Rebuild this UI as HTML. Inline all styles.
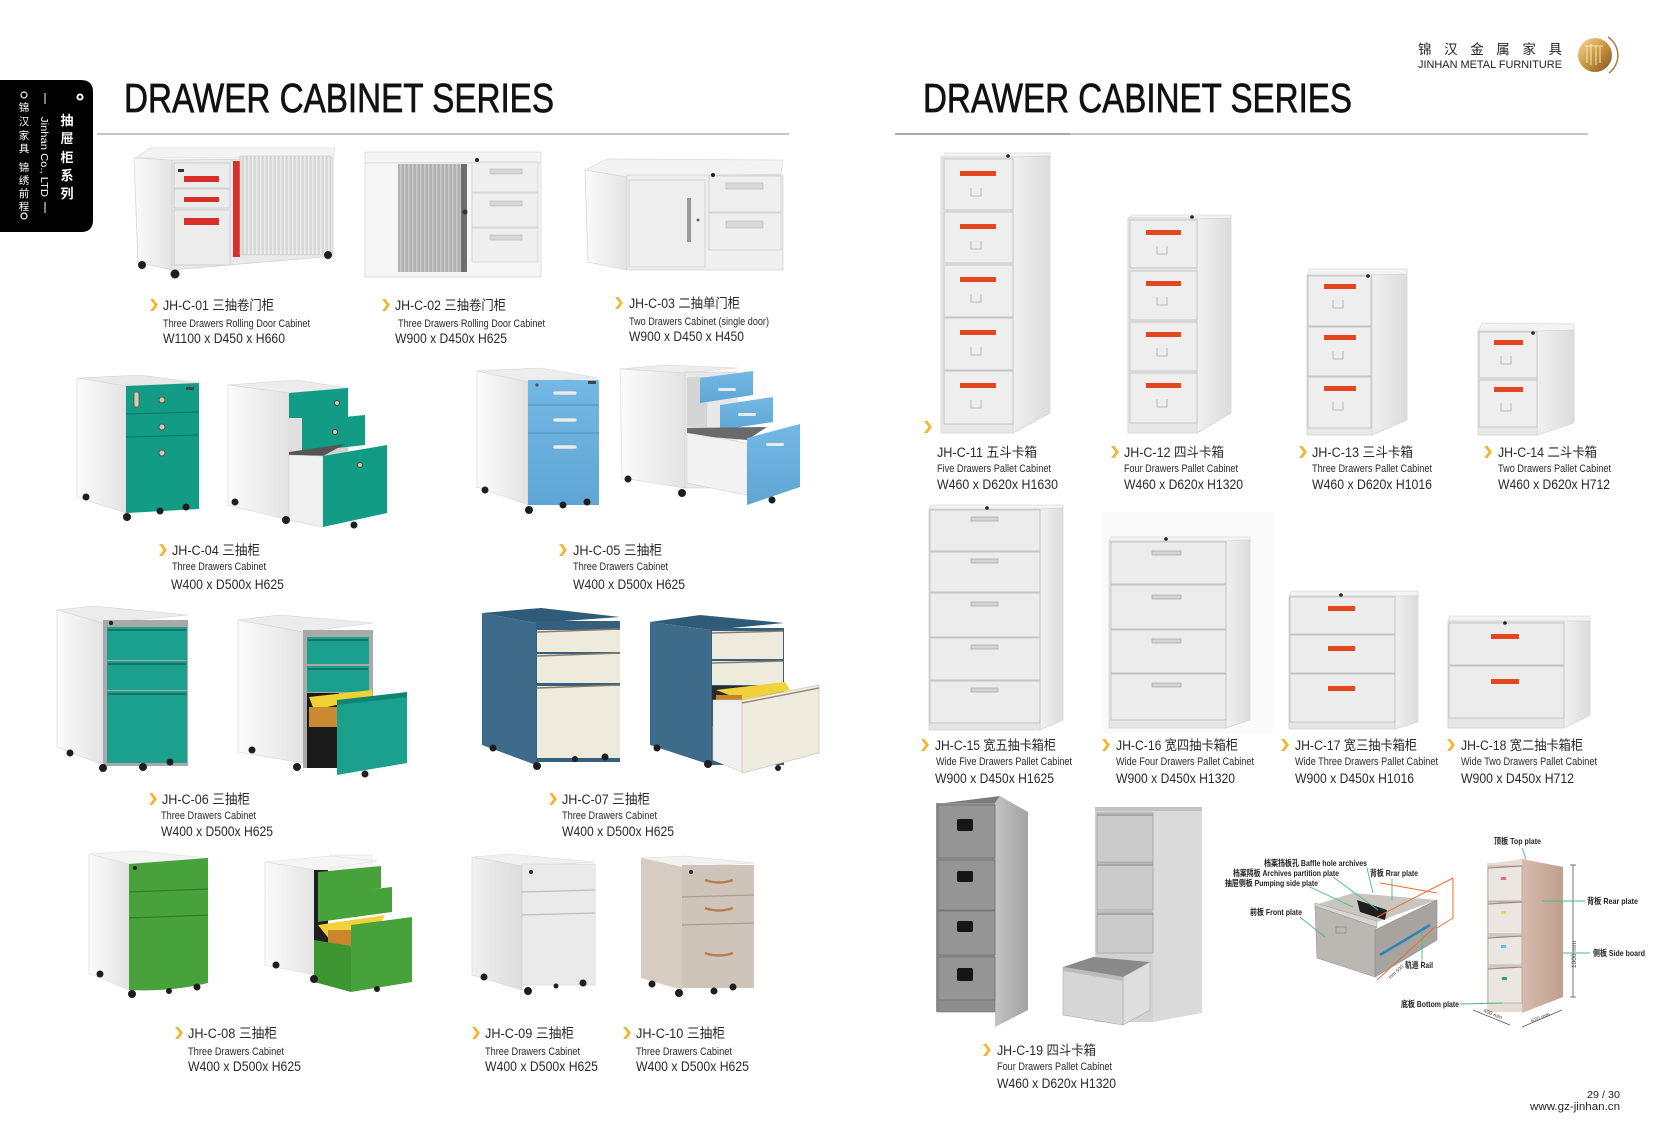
<!DOCTYPE html>
<html><head><meta charset="utf-8"><title>Drawer Cabinet Series</title>
<style>
html,body{margin:0;padding:0;background:#fff;width:1654px;height:1122px;overflow:hidden;}
svg{display:block;}
text{font-family:"Liberation Sans","Noto Sans CJK SC",sans-serif;}
.t{font-size:41px;fill:#111;stroke:#111;stroke-width:0.7px;}
.m{font-size:13.5px;fill:#2a2a2a;}
.s{font-size:11px;fill:#2a2a2a;}
.d{font-size:13.5px;fill:#2a2a2a;}
.dl{font-size:8.5px;font-weight:bold;fill:#222;}
</style></head><body>
<svg width="1654" height="1122" viewBox="0 0 1654 1122" xmlns="http://www.w3.org/2000/svg">
<defs>
<linearGradient id="gs" x1="0" x2="1"><stop offset="0" stop-color="#fbfbfb"/><stop offset="1" stop-color="#e3e3e3"/></linearGradient>
<linearGradient id="gs2" x1="0" x2="1"><stop offset="0" stop-color="#f0f0f0"/><stop offset="1" stop-color="#dcdcdc"/></linearGradient>
<linearGradient id="gb" x1="0" y1="0" x2="0" y2="1"><stop offset="0" stop-color="#74b8e4"/><stop offset="1" stop-color="#5fa6d6"/></linearGradient>
<linearGradient id="gold" x1="0" y1="0" x2="1" y2="1"><stop offset="0" stop-color="#f5dc98"/><stop offset="0.5" stop-color="#c9963f"/><stop offset="1" stop-color="#7f5320"/></linearGradient>
<linearGradient id="gside19" x1="0" x2="1"><stop offset="0" stop-color="#c4c4c4"/><stop offset="1" stop-color="#a2a2a2"/></linearGradient>
<linearGradient id="gbr" x1="0" x2="1"><stop offset="0" stop-color="#d6bcae"/><stop offset="1" stop-color="#c09e8c"/></linearGradient>
<pattern id="slat" width="4" height="10" patternUnits="userSpaceOnUse"><rect width="4" height="10" fill="#d8d8d8"/><rect width="1.5" height="10" fill="#ebebeb"/></pattern>
<pattern id="slat2" width="4" height="10" patternUnits="userSpaceOnUse"><rect width="4" height="10" fill="#b2b2b2"/><rect width="1.5" height="10" fill="#c9c9c9"/></pattern>
<polygon id="arw" points="0,0 3.5,0 8,6 3.5,12 0,12 4.5,6" fill="#f2b632"/>
</defs>

<!-- Sidebar -->
<path d="M0,80 H81 Q93,80 93,92 V220 Q93,232 81,232 H0 Z" fill="#000"/>
<circle cx="80" cy="97" r="3.5" fill="#fff"/><circle cx="80" cy="97" r="1.6" fill="#000"/>
<g fill="#fff" font-size="13" font-weight="bold" text-anchor="middle">
<text x="67" y="125">抽</text><text x="67" y="143">屉</text><text x="67" y="162">柜</text><text x="67" y="180">系</text><text x="67" y="198">列</text>
</g>
<line x1="45" y1="93" x2="45" y2="104" stroke="#fff" stroke-width="1"/>
<line x1="45" y1="202" x2="45" y2="213" stroke="#fff" stroke-width="1"/>
<text transform="translate(41,117) rotate(90)" font-size="10" fill="#fff" textLength="80" lengthAdjust="spacingAndGlyphs">Jinhan Co., LTD</text>
<g fill="#fff" font-size="10.5" text-anchor="middle">
<circle cx="24" cy="95" r="3" fill="none" stroke="#fff" stroke-width="1.2"/>
<text x="24" y="111">锦</text><text x="24" y="125">汉</text><text x="24" y="139">家</text><text x="24" y="152">具</text>
<text x="24" y="171">锦</text><text x="24" y="184">绣</text><text x="24" y="197">前</text><text x="24" y="210">程</text>
<circle cx="24" cy="216" r="3" fill="none" stroke="#fff" stroke-width="1.2"/>
</g>

<!-- Logo -->
<text x="1418" y="54" font-size="13.5" fill="#222" textLength="144" lengthAdjust="spacing">锦汉金属家具</text>
<text x="1418" y="68" font-size="11" fill="#222" textLength="144" lengthAdjust="spacingAndGlyphs">JINHAN METAL FURNITURE</text>
<circle cx="1595" cy="55" r="17" fill="url(#gold)"/>
<path d="M1587,46 v17 M1591,44 v21 M1596,45 v20 M1600,47 v16 M1585,46 h18" stroke="#f6e7c0" stroke-width="1" fill="none"/>
<path d="M1608,37 A22,22 0 0 1 1609,73" stroke="#b07a3c" stroke-width="1.5" fill="none"/>

<!-- Titles -->
<text class="t" x="124" y="112" textLength="430" lengthAdjust="spacingAndGlyphs">DRAWER CABINET SERIES</text>
<text class="t" x="923" y="112" textLength="429" lengthAdjust="spacingAndGlyphs">DRAWER CABINET SERIES</text>
<line x1="97" y1="134" x2="789" y2="134" stroke="#c6c6c6" stroke-width="2"/>
<line x1="895" y1="134" x2="1588" y2="134" stroke="#c6c6c6" stroke-width="2"/>
<line x1="895" y1="134" x2="1070" y2="134" stroke="#a9a9a9" stroke-width="2"/>

<!-- ============ LEFT PAGE CABINETS ============ -->
<!-- C-01 -->
<polygon points="136,158 150,148 335,148 333,158" fill="#f3f3f3" stroke="#dcdcdc" stroke-width=".8"/>
<polygon points="134,158 172,160 172,270 138,262" fill="url(#gs)" stroke="#d6d6d6" stroke-width=".8"/>
<polygon points="172,160 333,158 333,256 172,270" fill="#eaeaea" stroke="#d0d0d0" stroke-width=".8"/>
<rect x="174" y="163" width="56" height="25" fill="#ececec" stroke="#c9c9c9" stroke-width=".8"/>
<rect x="174" y="189" width="56" height="19" fill="#ececec" stroke="#c9c9c9" stroke-width=".8"/>
<rect x="174" y="210" width="56" height="55" fill="#ececec" stroke="#c9c9c9" stroke-width=".8"/>
<rect x="184" y="176" width="35" height="6" fill="#d7302a"/>
<rect x="184" y="197" width="35" height="5" fill="#d7302a"/>
<rect x="184" y="218" width="35" height="7" fill="#d7302a"/>
<rect x="178" y="169" width="6" height="3" fill="#333"/>
<rect x="233" y="161" width="7" height="96" fill="#d7302a"/>
<rect x="240" y="156" width="91" height="99" fill="url(#slat)" stroke="#c8c8c8" stroke-width=".6"/>
<circle cx="142" cy="265" r="4" fill="#1e1e1e"/><circle cx="175" cy="274" r="4.5" fill="#1e1e1e"/><circle cx="328" cy="255" r="4" fill="#1e1e1e"/>

<!-- C-02 -->
<rect x="365" y="152" width="176" height="11" fill="#f4f4f4" stroke="#dadada" stroke-width=".8"/>
<rect x="365" y="163" width="176" height="114" fill="#f6f6f6" stroke="#d6d6d6" stroke-width=".8"/>
<rect x="398" y="164" width="69" height="108" fill="url(#slat2)"/>
<rect x="461" y="164" width="6" height="108" fill="#6e6e6e"/>
<circle cx="465" cy="212" r="2.5" fill="#333"/>
<rect x="472" y="162" width="66" height="30" fill="#efefef" stroke="#cfcfcf" stroke-width=".8"/>
<rect x="472" y="193" width="66" height="34" fill="#efefef" stroke="#cfcfcf" stroke-width=".8"/>
<rect x="472" y="228" width="66" height="34" fill="#efefef" stroke="#cfcfcf" stroke-width=".8"/>
<rect x="490" y="169" width="32" height="5" fill="#d6d6d6" stroke="#b5b5b5" stroke-width=".6"/>
<rect x="490" y="201" width="32" height="5" fill="#d6d6d6" stroke="#b5b5b5" stroke-width=".6"/>
<rect x="490" y="235" width="32" height="5" fill="#d6d6d6" stroke="#b5b5b5" stroke-width=".6"/>
<circle cx="477" cy="160" r="2" fill="#222"/>

<!-- C-03 -->
<polygon points="585,170 607,159 783,160 781,174 627,177" fill="#f3f3f3" stroke="#dcdcdc" stroke-width=".8"/>
<polygon points="585,170 627,177 627,270 588,262" fill="url(#gs)" stroke="#d8d8d8" stroke-width=".8"/>
<rect x="627" y="175" width="156" height="95" fill="#efefef" stroke="#d4d4d4" stroke-width=".8"/>
<rect x="629" y="180" width="76" height="87" fill="#eeeeee" stroke="#cdcdcd" stroke-width=".8"/>
<rect x="687" y="198" width="4" height="44" fill="#9a9a9a"/>
<circle cx="698" cy="220" r="1.5" fill="#666"/>
<rect x="709" y="176" width="72" height="36" fill="#efefef" stroke="#cdcdcd" stroke-width=".8"/>
<rect x="709" y="213" width="72" height="37" fill="#efefef" stroke="#cdcdcd" stroke-width=".8"/>
<rect x="726" y="183" width="37" height="6" fill="#d9d9d9" stroke="#b5b5b5" stroke-width=".6"/>
<rect x="726" y="221" width="37" height="7" fill="#d9d9d9" stroke="#b5b5b5" stroke-width=".6"/>
<circle cx="713" cy="175" r="2" fill="#222"/>

<!-- C-04 closed -->
<polygon points="77,378 140,375 199,383 126,386" fill="#e9e9e9" stroke="#d4d4d4" stroke-width=".6"/>
<polygon points="77,378 126,386 126,513 77,497" fill="url(#gs)" stroke="#d6d6d6" stroke-width=".6"/>
<polygon points="126,386 199,383 199,509 126,513" fill="#129b85"/>
<line x1="126" y1="414" x2="199" y2="412" stroke="#0b7665" stroke-width="1"/>
<line x1="126" y1="437" x2="199" y2="435" stroke="#0b7665" stroke-width="1"/>
<circle cx="162" cy="400" r="3" fill="#d8c9a8" stroke="#555" stroke-width="1"/>
<circle cx="162" cy="427" r="3" fill="#d8c9a8" stroke="#555" stroke-width="1"/>
<circle cx="162" cy="453" r="3" fill="#d8c9a8" stroke="#555" stroke-width="1"/>
<rect x="134" y="392" width="5" height="15" rx="2" fill="#d8c9a8" stroke="#555" stroke-width=".8"/>
<rect x="186" y="387" width="8" height="3" fill="#444"/>
<circle cx="86" cy="497" r="3.5" fill="#1e1e1e"/><circle cx="127" cy="517" r="4" fill="#1e1e1e"/><circle cx="160" cy="511" r="3.5" fill="#1e1e1e"/><circle cx="186" cy="507" r="3.5" fill="#1e1e1e"/>

<!-- C-04 open -->
<polygon points="228,385 296,380 348,388 289,393" fill="#ececec" stroke="#d4d4d4" stroke-width=".6"/>
<polygon points="228,385 289,393 289,520 228,505" fill="url(#gs)" stroke="#d6d6d6" stroke-width=".6"/>
<polygon points="289,424 348,420 348,470 289,470" fill="#d2d2d2"/>
<polygon points="289,393 348,388 348,420 289,424" fill="#129b85"/>
<polygon points="289,418 302,418 302,450 289,452" fill="#e0e0e0"/>
<polygon points="302,421 365,415 365,445 302,452" fill="#129b85"/>
<polygon points="289,452 345,444 323,456 289,458" fill="#555"/>
<polygon points="289,455 323,456 323,527 289,520" fill="#f0f0f0" stroke="#ccc" stroke-width=".6"/>
<polygon points="323,456 387,445 387,513 323,527" fill="#129b85"/>
<circle cx="337" cy="403" r="2.5" fill="#d8c9a8" stroke="#444" stroke-width="1"/>
<circle cx="335" cy="432" r="2.5" fill="#d8c9a8" stroke="#444" stroke-width="1"/>
<circle cx="360" cy="465" r="2.5" fill="#d8c9a8" stroke="#444" stroke-width="1"/>
<circle cx="235" cy="502" r="3.5" fill="#1e1e1e"/><circle cx="286" cy="520" r="4" fill="#1e1e1e"/><circle cx="354" cy="525" r="3.5" fill="#1e1e1e"/>

<!-- C-05 closed -->
<polygon points="477,371 540,368 599,378 528,382" fill="#ededed" stroke="#d4d4d4" stroke-width=".6"/>
<polygon points="477,371 528,382 528,505 477,487" fill="url(#gs)" stroke="#d6d6d6" stroke-width=".6"/>
<rect x="528" y="380" width="71" height="125" fill="url(#gb)"/>
<line x1="528" y1="405" x2="599" y2="405" stroke="#4a8dbb" stroke-width="1"/>
<line x1="528" y1="433" x2="599" y2="433" stroke="#4a8dbb" stroke-width="1"/>
<rect x="553" y="391" width="24" height="4" rx="2" fill="#e6ecf0" stroke="#8aa0ae" stroke-width=".5"/>
<rect x="553" y="418" width="24" height="4" rx="2" fill="#e6ecf0" stroke="#8aa0ae" stroke-width=".5"/>
<rect x="553" y="445" width="24" height="4" rx="2" fill="#e6ecf0" stroke="#8aa0ae" stroke-width=".5"/>
<circle cx="537" cy="385" r="1.6" fill="#555"/><rect x="588" y="381" width="8" height="3" fill="#444"/>
<circle cx="485" cy="490" r="3.5" fill="#1e1e1e"/><circle cx="529" cy="510" r="4" fill="#1e1e1e"/><circle cx="563" cy="505" r="3.5" fill="#1e1e1e"/><circle cx="587" cy="502" r="3.5" fill="#1e1e1e"/>

<!-- C-05 open -->
<polygon points="620,369 667,365 737,368 685,373" fill="#ededed" stroke="#d4d4d4" stroke-width=".6"/>
<polygon points="620,369 685,373 685,488 622,478" fill="url(#gs)" stroke="#d6d6d6" stroke-width=".6"/>
<rect x="685" y="372" width="52" height="116" fill="#e8e8e8" stroke="#d0d0d0" stroke-width=".6"/>
<rect x="687" y="377" width="20" height="50" fill="#d5d5d5"/>
<polygon points="700,378 753,371 753,395 700,403" fill="url(#gb)"/>
<polygon points="720,405 773,397 773,422 720,430" fill="url(#gb)"/>
<polygon points="687,428 767,427 747,440 687,435" fill="#6a6a6a"/>
<polygon points="687,433 747,443 747,495 687,483" fill="#f2f2f2" stroke="#cfcfcf" stroke-width=".6"/>
<polygon points="747,438 800,424 800,487 747,505" fill="url(#gb)"/>
<rect x="718" y="388" width="18" height="3" rx="1.5" fill="#e6ecf0"/>
<rect x="738" y="413" width="18" height="3" rx="1.5" fill="#e6ecf0"/>
<rect x="766" y="443" width="18" height="3" rx="1.5" fill="#e6ecf0"/>
<circle cx="628" cy="479" r="3.5" fill="#1e1e1e"/><circle cx="682" cy="493" r="4" fill="#1e1e1e"/><circle cx="772" cy="500" r="3.5" fill="#1e1e1e"/>

<!-- C-06 closed -->
<polygon points="57,610 93,606 188,615 103,623" fill="#ececec" stroke="#d2d2d2" stroke-width=".6"/>
<polygon points="57,610 103,623 103,765 57,747" fill="url(#gs)" stroke="#d4d4d4" stroke-width=".6"/>
<rect x="103" y="620" width="85" height="146" fill="#a9a9a9"/>
<rect x="107" y="627" width="80" height="33" fill="#1aa08c"/>
<rect x="107" y="661" width="80" height="29" fill="#1aa08c"/>
<rect x="107" y="691" width="80" height="72" fill="#1aa08c"/>
<line x1="108" y1="630" x2="186" y2="630" stroke="#0a5e50" stroke-width="1.3"/>
<line x1="108" y1="664" x2="186" y2="664" stroke="#0a5e50" stroke-width="1.3"/>
<line x1="108" y1="694" x2="186" y2="694" stroke="#0a5e50" stroke-width="1.3"/>
<circle cx="111" cy="623" r="2.2" fill="#222"/>
<circle cx="70" cy="753" r="3.5" fill="#1e1e1e"/><circle cx="103" cy="768" r="4" fill="#1e1e1e"/><circle cx="143" cy="767" r="4" fill="#1e1e1e"/><circle cx="170" cy="762" r="3.5" fill="#1e1e1e"/>

<!-- C-06 open -->
<polygon points="238,620 280,615 373,623 303,632" fill="#ececec" stroke="#d2d2d2" stroke-width=".6"/>
<polygon points="238,620 303,632 303,763 238,752" fill="url(#gs)" stroke="#d4d4d4" stroke-width=".6"/>
<rect x="303" y="630" width="70" height="138" fill="#a9a9a9"/>
<rect x="307" y="637" width="62" height="27" fill="#1aa08c"/>
<rect x="307" y="666" width="62" height="26" fill="#1aa08c"/>
<line x1="308" y1="640" x2="368" y2="640" stroke="#0a5e50" stroke-width="1.3"/>
<line x1="308" y1="669" x2="368" y2="669" stroke="#0a5e50" stroke-width="1.3"/>
<rect x="307" y="693" width="32" height="75" fill="#1a1a1a"/>
<polygon points="309,697 372,690 372,697 314,710" fill="#f0d230"/>
<rect x="309" y="707" width="29" height="20" fill="#c98a32"/>
<polygon points="337,702 407,695 407,763 337,775" fill="#1aa08c"/>
<polygon points="337,700 407,692 407,697 337,705" fill="#0f8472"/>
<circle cx="252" cy="750" r="3.5" fill="#1e1e1e"/><circle cx="297" cy="767" r="4" fill="#1e1e1e"/><circle cx="365" cy="774" r="3.5" fill="#1e1e1e"/>

<!-- C-07 closed -->
<polygon points="482,613 541,608 620,617 536,623" fill="#2f5a78"/>
<polygon points="482,613 536,623 536,765 482,745" fill="#3f6b8b"/>
<rect x="536" y="621" width="84" height="141" fill="#34607f"/>
<rect x="537" y="630" width="83" height="22" fill="#eeeadc"/>
<rect x="537" y="654" width="83" height="29" fill="#eeeadc"/>
<rect x="537" y="686" width="83" height="72" fill="#eeeadc"/>
<line x1="537" y1="632" x2="620" y2="629" stroke="#8c7a66" stroke-width="1.5"/>
<line x1="537" y1="656" x2="620" y2="653" stroke="#8c7a66" stroke-width="1.5"/>
<line x1="537" y1="688" x2="620" y2="685" stroke="#8c7a66" stroke-width="1.5"/>
<circle cx="493" cy="748" r="3.5" fill="#1e1e1e"/><circle cx="537" cy="766" r="4" fill="#1e1e1e"/><circle cx="575" cy="759" r="3" fill="#1e1e1e"/><circle cx="605" cy="757" r="3.5" fill="#1e1e1e"/>

<!-- C-07 open -->
<polygon points="650,622 700,615 784,623 711,630" fill="#2f5a78"/>
<polygon points="650,622 711,630 711,765 650,745" fill="#3f6b8b"/>
<rect x="711" y="628" width="73" height="137" fill="#34607f"/>
<rect x="712" y="631" width="71" height="28" fill="#eeeadc"/>
<rect x="712" y="661" width="71" height="24" fill="#eeeadc"/>
<line x1="712" y1="633" x2="783" y2="631" stroke="#8c7a66" stroke-width="1.5"/>
<line x1="712" y1="663" x2="783" y2="661" stroke="#8c7a66" stroke-width="1.5"/>
<rect x="712" y="686" width="71" height="40" fill="#2a2a2a"/>
<polygon points="716,690 785,682 790,690 742,700" fill="#f0d33a"/>
<rect x="716" y="695" width="26" height="20" fill="#c8822e"/>
<polygon points="713,700 742,700 742,772 713,760" fill="#f0f0f0" stroke="#cfcfcf" stroke-width=".6"/>
<polygon points="742,700 819,685 819,753 742,773" fill="#efebdf" stroke="#cfc8b5" stroke-width=".8"/>
<line x1="742" y1="703" x2="819" y2="688" stroke="#9c8a74" stroke-width="1.5"/>
<circle cx="657" cy="748" r="3.5" fill="#1e1e1e"/><circle cx="708" cy="764" r="4" fill="#1e1e1e"/><circle cx="778" cy="768" r="3" fill="#1e1e1e"/>

<!-- C-08 closed -->
<polygon points="89,854 140,851 208,858 129,864" fill="#f4f4f4" stroke="#dddddd" stroke-width=".6"/>
<polygon points="89,854 129,864 129,990 89,973" fill="url(#gs)" stroke="#dadada" stroke-width=".6"/>
<path d="M129,864 L208,858 L208,983 Q170,992 129,990 Z" fill="#47a23b"/>
<line x1="129" y1="892" x2="208" y2="889" stroke="#2f7d26" stroke-width="1.2"/>
<line x1="129" y1="918" x2="208" y2="915" stroke="#2f7d26" stroke-width="1.2"/>
<circle cx="135" cy="868" r="2" fill="#222"/>
<circle cx="100" cy="974" r="3.5" fill="#1e1e1e"/><circle cx="132" cy="994" r="4" fill="#1e1e1e"/><circle cx="169" cy="991" r="3" fill="#1e1e1e"/><circle cx="197" cy="987" r="3.5" fill="#1e1e1e"/>

<!-- C-08 open -->
<rect x="330" y="855" width="42" height="14" fill="#f6f6f6" stroke="#e2e2e2" stroke-width=".6"/>
<polygon points="265,862 330,856 378,861 316,870" fill="#f5f5f5" stroke="#e0e0e0" stroke-width=".6"/>
<polygon points="265,862 316,870 316,975 265,965" fill="url(#gs)" stroke="#dadada" stroke-width=".6"/>
<rect x="314" y="870" width="14" height="112" fill="#1f1f1f"/>
<polygon points="318,872 381,866 381,888 318,898" fill="#47a23b"/>
<polygon points="318,895 392,887 392,912 318,922" fill="#47a23b"/>
<polygon points="318,925 385,915 380,925 330,940" fill="#f2d23a"/>
<rect x="328" y="930" width="24" height="20" fill="#c9862e"/>
<polygon points="314,940 351,946 351,992 314,982" fill="#3d9632"/>
<polygon points="351,925 412,917 412,982 351,992" fill="#47a23b"/>
<circle cx="276" cy="965" r="3.5" fill="#1e1e1e"/><circle cx="314" cy="979" r="4" fill="#1e1e1e"/><circle cx="377" cy="989" r="3" fill="#1e1e1e"/>

<!-- C-09 -->
<polygon points="472,857 509,854 595,862 522,866" fill="#f0f0f0" stroke="#d9d9d9" stroke-width=".6"/>
<polygon points="472,857 522,866 522,990 472,975" fill="url(#gs2)" stroke="#d6d6d6" stroke-width=".6"/>
<rect x="522" y="864" width="73" height="121" fill="#eaeaea" stroke="#d3d3d3" stroke-width=".6"/>
<line x1="522" y1="892" x2="595" y2="890" stroke="#bdbdbd" stroke-width="1.2"/>
<line x1="522" y1="915" x2="595" y2="913" stroke="#bdbdbd" stroke-width="1.2"/>
<circle cx="531" cy="872" r="2" fill="#222"/>
<circle cx="484" cy="977" r="3.5" fill="#1e1e1e"/><circle cx="528" cy="991" r="4" fill="#1e1e1e"/><circle cx="556" cy="986" r="2.5" fill="#1e1e1e"/><circle cx="583" cy="983" r="3.5" fill="#1e1e1e"/>

<!-- C-10 -->
<polygon points="641,858 684,856 754,863 682,867" fill="#f4f2f0" stroke="#dcd6d0" stroke-width=".6"/>
<polygon points="641,858 682,867 682,990 641,978" fill="#d6ccc2"/>
<rect x="682" y="865" width="72" height="123" fill="#cfc4b9"/>
<line x1="682" y1="897" x2="754" y2="895" stroke="#a99d90" stroke-width="1.2"/>
<line x1="682" y1="925" x2="754" y2="923" stroke="#a99d90" stroke-width="1.2"/>
<path d="M705,880 q14,5 28,0 M705,908 q14,5 28,0 M705,953 q14,5 28,0" stroke="#b77c55" stroke-width="2.5" fill="none"/>
<circle cx="691" cy="872" r="2" fill="#222"/>
<circle cx="652" cy="984" r="3.5" fill="#1e1e1e"/><circle cx="679" cy="993" r="4" fill="#1e1e1e"/><circle cx="714" cy="991" r="3.5" fill="#1e1e1e"/><circle cx="733" cy="987" r="3.5" fill="#1e1e1e"/>

<!-- ============ RIGHT PAGE CABINETS ============ -->
<g stroke-width=".8">
<!-- C-11 -->
<polygon points="941,159 946,153 1050,153 1050,159" fill="#f3f3f3" stroke="#dadada"/>
<polygon points="1013,157 1050,156 1050,413 1013,433" fill="url(#gs2)" stroke="#d6d6d6"/>
<rect x="941" y="157" width="72" height="276" fill="#e8e8e8" stroke="#d2d2d2"/>
<rect x="944" y="159" width="69" height="51" fill="#eeeeee" stroke="#bdbdbd"/>
<rect x="944" y="212" width="69" height="51" fill="#eeeeee" stroke="#bdbdbd"/>
<rect x="944" y="265" width="69" height="52" fill="#eeeeee" stroke="#bdbdbd"/>
<rect x="944" y="318" width="69" height="52" fill="#eeeeee" stroke="#bdbdbd"/>
<rect x="944" y="371" width="69" height="53" fill="#eeeeee" stroke="#bdbdbd"/>
</g>
<g fill="#e4471f">
<rect x="960" y="171" width="36" height="5"/><rect x="960" y="224" width="36" height="5"/><rect x="960" y="277" width="36" height="5"/><rect x="960" y="330" width="36" height="5"/><rect x="960" y="383" width="36" height="5"/>
</g>
<path d="M971,188 v8 h10 v-8 M971,241 v8 h10 v-8 M971,294 v8 h10 v-8 M971,347 v8 h10 v-8 M971,400 v8 h10 v-8" stroke="#aaa" fill="none" stroke-width=".8"/>
<circle cx="1008" cy="156" r="1.8" fill="#222"/>

<g stroke-width=".8">
<!-- C-12 -->
<polygon points="1128,220 1132,215 1231,215 1231,220" fill="#f3f3f3" stroke="#dadada"/>
<polygon points="1197,219 1231,218 1231,413 1197,433" fill="url(#gs2)" stroke="#d6d6d6"/>
<rect x="1128" y="218" width="69" height="215" fill="#e8e8e8" stroke="#d2d2d2"/>
<rect x="1130" y="220" width="67" height="48" fill="#eeeeee" stroke="#bdbdbd"/>
<rect x="1130" y="271" width="67" height="49" fill="#eeeeee" stroke="#bdbdbd"/>
<rect x="1130" y="322" width="67" height="49" fill="#eeeeee" stroke="#bdbdbd"/>
<rect x="1130" y="373" width="67" height="50" fill="#eeeeee" stroke="#bdbdbd"/>
<!-- C-13 -->
<polygon points="1307,275 1310,269 1407,269 1407,275" fill="#f3f3f3" stroke="#dadada"/>
<polygon points="1372,275 1407,274 1407,420 1372,435" fill="url(#gs2)" stroke="#d6d6d6"/>
<rect x="1307" y="275" width="65" height="160" fill="#e8e8e8" stroke="#d2d2d2"/>
<rect x="1308" y="276" width="63" height="50" fill="#eeeeee" stroke="#bdbdbd"/>
<rect x="1308" y="327" width="63" height="49" fill="#eeeeee" stroke="#bdbdbd"/>
<rect x="1308" y="377" width="63" height="51" fill="#eeeeee" stroke="#bdbdbd"/>
<!-- C-14 -->
<polygon points="1478,332 1482,323 1574,324 1574,331" fill="#f3f3f3" stroke="#dadada"/>
<polygon points="1537,331 1574,330 1574,423 1537,435" fill="url(#gs2)" stroke="#d6d6d6"/>
<rect x="1478" y="331" width="59" height="104" fill="#e8e8e8" stroke="#d2d2d2"/>
<rect x="1479" y="332" width="58" height="46" fill="#eeeeee" stroke="#bdbdbd"/>
<rect x="1479" y="380" width="58" height="47" fill="#eeeeee" stroke="#bdbdbd"/>
</g>
<g fill="#e4471f">
<rect x="1146" y="230" width="35" height="5"/><rect x="1146" y="281" width="35" height="5"/><rect x="1146" y="332" width="35" height="5"/><rect x="1146" y="383" width="35" height="5"/>
<rect x="1324" y="284" width="32" height="5"/><rect x="1324" y="335" width="32" height="5"/><rect x="1324" y="386" width="32" height="5"/>
<rect x="1494" y="340" width="29" height="5"/><rect x="1494" y="387" width="29" height="5"/>
</g>
<path d="M1157,246 v8 h10 v-8 M1157,297 v8 h10 v-8 M1157,348 v8 h10 v-8 M1157,399 v8 h10 v-8 M1333,300 v8 h10 v-8 M1333,351 v8 h10 v-8 M1333,402 v8 h10 v-8 M1501,356 v8 h10 v-8 M1501,403 v8 h10 v-8" stroke="#aaa" fill="none" stroke-width=".8"/>
<circle cx="1192" cy="217" r="1.8" fill="#222"/><circle cx="1368" cy="276" r="1.8" fill="#222"/><circle cx="1533" cy="333" r="1.8" fill="#222"/>

<!-- Row 2 right -->
<rect x="1103" y="512" width="170" height="221" fill="#fafafa"/>
<g stroke-width=".8">
<!-- C-15 -->
<polygon points="929,510 931,505 1063,505 1063,510" fill="#f3f3f3" stroke="#dadada"/>
<polygon points="1040,509 1063,508 1063,720 1040,730" fill="url(#gs2)" stroke="#d6d6d6"/>
<rect x="929" y="509" width="111" height="221" fill="#e6e6e6" stroke="#d2d2d2"/>
<rect x="930" y="510" width="110" height="41" fill="#ececec" stroke="#bdbdbd"/>
<rect x="930" y="552" width="110" height="40" fill="#ececec" stroke="#bdbdbd"/>
<rect x="930" y="593" width="110" height="44" fill="#ececec" stroke="#bdbdbd"/>
<rect x="930" y="638" width="110" height="42" fill="#ececec" stroke="#bdbdbd"/>
<rect x="930" y="681" width="110" height="42" fill="#ececec" stroke="#bdbdbd"/>
<!-- C-16 -->
<polygon points="1109,542 1111,537 1250,537 1250,542" fill="#f3f3f3" stroke="#dadada"/>
<polygon points="1226,541 1250,540 1250,720 1226,728" fill="url(#gs2)" stroke="#d6d6d6"/>
<rect x="1109" y="541" width="117" height="187" fill="#e6e6e6" stroke="#d2d2d2"/>
<rect x="1111" y="542" width="115" height="42" fill="#ececec" stroke="#bdbdbd"/>
<rect x="1111" y="585" width="115" height="44" fill="#ececec" stroke="#bdbdbd"/>
<rect x="1111" y="630" width="115" height="43" fill="#ececec" stroke="#bdbdbd"/>
<rect x="1111" y="674" width="115" height="46" fill="#ececec" stroke="#bdbdbd"/>
<!-- C-17 -->
<polygon points="1289,597 1291,591 1418,591 1418,597" fill="#f3f3f3" stroke="#dadada"/>
<polygon points="1395,596 1418,596 1418,722 1395,729" fill="url(#gs2)" stroke="#d6d6d6"/>
<rect x="1289" y="596" width="106" height="133" fill="#e6e6e6" stroke="#d2d2d2"/>
<rect x="1290" y="597" width="105" height="37" fill="#ececec" stroke="#bdbdbd"/>
<rect x="1290" y="635" width="105" height="38" fill="#ececec" stroke="#bdbdbd"/>
<rect x="1290" y="674" width="105" height="48" fill="#ececec" stroke="#bdbdbd"/>
<!-- C-18 -->
<polygon points="1448,622 1450,616 1590,616 1590,622" fill="#f3f3f3" stroke="#dadada"/>
<polygon points="1564,621 1590,621 1590,715 1564,728" fill="url(#gs2)" stroke="#d6d6d6"/>
<rect x="1448" y="621" width="116" height="107" fill="#e6e6e6" stroke="#d2d2d2"/>
<rect x="1449" y="623" width="115" height="42" fill="#ececec" stroke="#bdbdbd"/>
<rect x="1449" y="666" width="115" height="52" fill="#ececec" stroke="#bdbdbd"/>
</g>
<g fill="#d4d4d4" stroke="#9a9a9a" stroke-width=".6">
<rect x="971" y="517" width="27" height="4"/><rect x="971" y="559" width="27" height="4"/><rect x="971" y="602" width="27" height="4"/><rect x="971" y="645" width="27" height="4"/><rect x="971" y="688" width="27" height="4"/>
<rect x="1152" y="551" width="29" height="4"/><rect x="1152" y="595" width="29" height="4"/><rect x="1152" y="639" width="29" height="4"/><rect x="1152" y="683" width="29" height="4"/>
</g>
<g fill="#e4471f">
<rect x="1328" y="606" width="27" height="5"/><rect x="1328" y="646" width="27" height="5"/><rect x="1328" y="686" width="27" height="5"/>
<rect x="1491" y="634" width="28" height="5"/><rect x="1491" y="679" width="28" height="5"/>
</g>
<circle cx="987" cy="508" r="1.8" fill="#222"/><circle cx="1166" cy="539" r="1.8" fill="#222"/><circle cx="1341" cy="595" r="1.8" fill="#222"/><circle cx="1505" cy="623" r="1.8" fill="#222"/>

<!-- C-19 closed -->
<polygon points="995,803 1000,796 1028,812 1028,1010 995,1027" fill="url(#gside19)"/>
<polygon points="936,804 1000,796 995,803 936,808" fill="#7c7c7c"/>
<rect x="936" y="803" width="59" height="209" fill="#939393"/>
<g fill="#959595" stroke="#6f6f6f" stroke-width=".8">
<rect x="938" y="805" width="57" height="53"/><rect x="938" y="860" width="57" height="50"/><rect x="938" y="911" width="57" height="44"/><rect x="938" y="957" width="57" height="43"/>
</g>
<rect x="938" y="1000" width="57" height="12" fill="#8d8d8d" stroke="#777" stroke-width=".6"/>
<g fill="#151515"><rect x="957" y="819" width="16" height="12" rx="2"/><rect x="957" y="871" width="16" height="11" rx="2"/><rect x="957" y="921" width="16" height="11" rx="2"/><rect x="957" y="968" width="16" height="13" rx="2"/></g>

<!-- C-19 open -->
<polygon points="1153,807 1202,807 1202,1013 1153,1022" fill="#dadada"/>
<rect x="1095" y="807" width="58" height="215" fill="#d2d2d2"/>
<rect x="1095" y="807" width="107" height="4" fill="#c2c2c2"/>
<g fill="#cbcbcb" stroke="#a5a5a5" stroke-width=".8">
<rect x="1097" y="813" width="56" height="49"/><rect x="1097" y="863" width="56" height="47"/><rect x="1097" y="912" width="56" height="41"/>
</g>
<line x1="1097" y1="815" x2="1153" y2="815" stroke="#999" stroke-width="1.5"/>
<line x1="1097" y1="865" x2="1153" y2="865" stroke="#999" stroke-width="1.5"/>
<line x1="1097" y1="914" x2="1153" y2="914" stroke="#999" stroke-width="1.5"/>
<polygon points="1063,967 1093,957 1150,962 1123,977" fill="#8a8a8a"/>
<polygon points="1123,977 1150,962 1150,1010 1123,1025" fill="#dedede" stroke="#aaa" stroke-width=".6"/>
<polygon points="1063,967 1123,977 1123,1025 1063,1015" fill="#d6d6d6" stroke="#aaa" stroke-width=".6"/>
<polygon points="1063,967 1123,977 1123,981 1063,971" fill="#bcbcbc"/>

<!-- Diagram: drawer -->
<polygon points="1353,893 1437,900 1377,922 1315,905" fill="#c9c6c2"/>
<polygon points="1357,900 1387,910 1385,920 1360,912" fill="#1e1e1e"/>
<polygon points="1315,903 1377,921 1377,928 1315,909" fill="#d8d5d2" stroke="#999" stroke-width=".5"/>
<polygon points="1315,906 1376,927 1375,977 1317,958" fill="#bbb7b3" stroke="#9a9691" stroke-width=".6"/>
<polygon points="1375,930 1437,900 1437,940 1375,977" fill="#a7a39e" stroke="#8e8a85" stroke-width=".6"/>
<rect x="1336" y="927" width="10" height="6" fill="none" stroke="#8a8680" stroke-width=".8"/>
<line x1="1380" y1="955" x2="1430" y2="925" stroke="#2a84b8" stroke-width="2.5"/>
<g stroke="#f06a30" stroke-width="1" fill="none">
<line x1="1380" y1="883" x2="1437" y2="893"/>
<line x1="1377" y1="917" x2="1453" y2="878"/>
<line x1="1453" y1="878" x2="1453" y2="918"/>
<line x1="1377" y1="980" x2="1435" y2="927"/>
<line x1="1437" y1="928" x2="1453" y2="918"/>
</g>
<!-- Diagram: cabinet -->
<polygon points="1487,864 1522,859 1563,867 1526,870" fill="#e8dcd4"/>
<polygon points="1522,859 1563,867 1563,997 1522,1013" fill="url(#gbr)"/>
<rect x="1487" y="863" width="35" height="149" fill="#e6dcd6"/>
<g fill="#ece6e2" stroke="#b3a59b" stroke-width=".8">
<rect x="1488" y="866" width="34" height="35"/><rect x="1488" y="902" width="34" height="32"/><rect x="1488" y="936" width="34" height="29"/><rect x="1488" y="967" width="34" height="36"/>
</g>
<line x1="1488" y1="868" x2="1522" y2="866" stroke="#a38f81" stroke-width="1.2"/>
<line x1="1488" y1="904" x2="1522" y2="902" stroke="#a38f81" stroke-width="1.2"/>
<line x1="1488" y1="938" x2="1522" y2="936" stroke="#a38f81" stroke-width="1.2"/>
<line x1="1488" y1="969" x2="1522" y2="967" stroke="#a38f81" stroke-width="1.2"/>
<rect x="1501" y="877" width="5" height="3" fill="#f06292"/><rect x="1501" y="911" width="5" height="3" fill="#f5d64a"/><rect x="1501" y="945" width="5" height="3" fill="#4fc3e8"/><rect x="1502" y="977" width="5" height="3" fill="#2eaa55"/>
<g stroke="#555" stroke-width=".8" fill="none">
<line x1="1573" y1="865" x2="1573" y2="997"/><line x1="1570" y1="865" x2="1576" y2="865"/><line x1="1570" y1="997" x2="1576" y2="997"/>
<line x1="1473" y1="1010" x2="1510" y2="1025"/><line x1="1522" y1="1027" x2="1562" y2="1010"/>
</g>
<text transform="translate(1576,968) rotate(-90)" font-size="6.5" fill="#444">1000 mm</text>
<text transform="translate(1483,1012) rotate(22)" font-size="5.5" fill="#444">400 mm</text>
<text transform="translate(1532,1023) rotate(-22)" font-size="5.5" fill="#444">620 mm</text>
<text transform="translate(1390,979) rotate(-40)" font-size="5" fill="#444">mm 500</text>
<!-- leaders -->
<g stroke="#4cbb7f" stroke-width=".9" fill="none">
<line x1="1522" y1="848" x2="1526" y2="859"/>
<line x1="1367" y1="868" x2="1373" y2="893"/>
<line x1="1333" y1="877" x2="1378" y2="910"/>
<line x1="1392" y1="879" x2="1392" y2="900"/>
<line x1="1310" y1="887" x2="1353" y2="907"/>
<line x1="1300" y1="917" x2="1325" y2="937"/>
<line x1="1422" y1="930" x2="1422" y2="962"/>
<line x1="1542" y1="901" x2="1585" y2="901"/>
<line x1="1563" y1="953" x2="1590" y2="953"/>
<line x1="1460" y1="1004" x2="1503" y2="1003"/>
</g>
<text class="dl" x="1494" y="844" textLength="47" lengthAdjust="spacingAndGlyphs">顶板 Top plate</text>
<text class="dl" x="1264" y="866" textLength="103" lengthAdjust="spacingAndGlyphs">档案挡板孔 Baffle hole archives</text>
<text class="dl" x="1233" y="876" textLength="106" lengthAdjust="spacingAndGlyphs">档案隔板 Archives partition plate</text>
<text class="dl" x="1370" y="876" textLength="48" lengthAdjust="spacingAndGlyphs">背板 Rrar plate</text>
<text class="dl" x="1225" y="886" textLength="93" lengthAdjust="spacingAndGlyphs">抽屉侧板 Pumping side plate</text>
<text class="dl" x="1250" y="915" textLength="52" lengthAdjust="spacingAndGlyphs">前板 Front plate</text>
<text class="dl" x="1405" y="968" textLength="28" lengthAdjust="spacingAndGlyphs">轨道 Rail</text>
<text class="dl" x="1587" y="904" textLength="51" lengthAdjust="spacingAndGlyphs">背板 Rear plate</text>
<text class="dl" x="1593" y="956" textLength="52" lengthAdjust="spacingAndGlyphs">侧板 Side board</text>
<text class="dl" x="1401" y="1007" textLength="58" lengthAdjust="spacingAndGlyphs">底板 Bottom plate</text>

<!-- ============ LABELS ============ -->
<!-- row1 left -->
<use href="#arw" x="150" y="299"/>
<text class="m" x="163" y="310" textLength="111" lengthAdjust="spacingAndGlyphs">JH-C-01 三抽卷门柜</text>
<text class="s" x="163" y="327" textLength="147" lengthAdjust="spacingAndGlyphs">Three Drawers Rolling Door Cabinet</text>
<text class="d" x="163" y="343" textLength="122" lengthAdjust="spacingAndGlyphs">W1100 x D450 x H660</text>
<use href="#arw" x="382" y="299"/>
<text class="m" x="395" y="310" textLength="111" lengthAdjust="spacingAndGlyphs">JH-C-02 三抽卷门柜</text>
<text class="s" x="398" y="327" textLength="147" lengthAdjust="spacingAndGlyphs">Three Drawers Rolling Door Cabinet</text>
<text class="d" x="395" y="343" textLength="112" lengthAdjust="spacingAndGlyphs">W900 x D450x H625</text>
<use href="#arw" x="615" y="297"/>
<text class="m" x="629" y="308" textLength="111" lengthAdjust="spacingAndGlyphs">JH-C-03 二抽单门柜</text>
<text class="s" x="629" y="325" textLength="140" lengthAdjust="spacingAndGlyphs">Two Drawers Cabinet (single door)</text>
<text class="d" x="629" y="341" textLength="115" lengthAdjust="spacingAndGlyphs">W900 x D450 x H450</text>
<!-- row2 left -->
<use href="#arw" x="159" y="544"/>
<text class="m" x="172" y="555" textLength="88" lengthAdjust="spacingAndGlyphs">JH-C-04 三抽柜</text>
<text class="s" x="172" y="570" textLength="94" lengthAdjust="spacingAndGlyphs">Three Drawers Cabinet</text>
<text class="d" x="171" y="589" textLength="113" lengthAdjust="spacingAndGlyphs">W400 x D500x H625</text>
<use href="#arw" x="559" y="544"/>
<text class="m" x="573" y="555" textLength="89" lengthAdjust="spacingAndGlyphs">JH-C-05 三抽柜</text>
<text class="s" x="573" y="570" textLength="95" lengthAdjust="spacingAndGlyphs">Three Drawers Cabinet</text>
<text class="d" x="573" y="589" textLength="112" lengthAdjust="spacingAndGlyphs">W400 x D500x H625</text>
<!-- row3 left -->
<use href="#arw" x="149" y="793"/>
<text class="m" x="162" y="804" textLength="88" lengthAdjust="spacingAndGlyphs">JH-C-06 三抽柜</text>
<text class="s" x="161" y="819" textLength="95" lengthAdjust="spacingAndGlyphs">Three Drawers Cabinet</text>
<text class="d" x="161" y="836" textLength="112" lengthAdjust="spacingAndGlyphs">W400 x D500x H625</text>
<use href="#arw" x="549" y="793"/>
<text class="m" x="562" y="804" textLength="88" lengthAdjust="spacingAndGlyphs">JH-C-07 三抽柜</text>
<text class="s" x="562" y="819" textLength="95" lengthAdjust="spacingAndGlyphs">Three Drawers Cabinet</text>
<text class="d" x="562" y="836" textLength="112" lengthAdjust="spacingAndGlyphs">W400 x D500x H625</text>
<!-- row4 left -->
<use href="#arw" x="175" y="1027"/>
<text class="m" x="188" y="1038" textLength="89" lengthAdjust="spacingAndGlyphs">JH-C-08 三抽柜</text>
<text class="s" x="188" y="1055" textLength="96" lengthAdjust="spacingAndGlyphs">Three Drawers Cabinet</text>
<text class="d" x="188" y="1071" textLength="113" lengthAdjust="spacingAndGlyphs">W400 x D500x H625</text>
<use href="#arw" x="472" y="1027"/>
<text class="m" x="485" y="1038" textLength="89" lengthAdjust="spacingAndGlyphs">JH-C-09 三抽柜</text>
<text class="s" x="485" y="1055" textLength="95" lengthAdjust="spacingAndGlyphs">Three Drawers Cabinet</text>
<text class="d" x="485" y="1071" textLength="113" lengthAdjust="spacingAndGlyphs">W400 x D500x H625</text>
<use href="#arw" x="623" y="1027"/>
<text class="m" x="636" y="1038" textLength="89" lengthAdjust="spacingAndGlyphs">JH-C-10 三抽柜</text>
<text class="s" x="636" y="1055" textLength="96" lengthAdjust="spacingAndGlyphs">Three Drawers Cabinet</text>
<text class="d" x="636" y="1071" textLength="113" lengthAdjust="spacingAndGlyphs">W400 x D500x H625</text>
<!-- row1 right -->
<use href="#arw" x="924" y="421"/>
<text class="m" x="937" y="457" textLength="100" lengthAdjust="spacingAndGlyphs">JH-C-11 五斗卡箱</text>
<text class="s" x="937" y="472" textLength="114" lengthAdjust="spacingAndGlyphs">Five Drawers Pallet Cabinet</text>
<text class="d" x="937" y="489" textLength="121" lengthAdjust="spacingAndGlyphs">W460 x D620x H1630</text>
<use href="#arw" x="1111" y="446"/>
<text class="m" x="1124" y="457" textLength="100" lengthAdjust="spacingAndGlyphs">JH-C-12 四斗卡箱</text>
<text class="s" x="1124" y="472" textLength="114" lengthAdjust="spacingAndGlyphs">Four Drawers Pallet Cabinet</text>
<text class="d" x="1124" y="489" textLength="119" lengthAdjust="spacingAndGlyphs">W460 x D620x H1320</text>
<use href="#arw" x="1299" y="446"/>
<text class="m" x="1312" y="457" textLength="101" lengthAdjust="spacingAndGlyphs">JH-C-13 三斗卡箱</text>
<text class="s" x="1312" y="472" textLength="120" lengthAdjust="spacingAndGlyphs">Three Drawers Pallet Cabinet</text>
<text class="d" x="1312" y="489" textLength="120" lengthAdjust="spacingAndGlyphs">W460 x D620x H1016</text>
<use href="#arw" x="1484" y="446"/>
<text class="m" x="1498" y="457" textLength="99" lengthAdjust="spacingAndGlyphs">JH-C-14 二斗卡箱</text>
<text class="s" x="1498" y="472" textLength="113" lengthAdjust="spacingAndGlyphs">Two Drawers Pallet Cabinet</text>
<text class="d" x="1498" y="489" textLength="112" lengthAdjust="spacingAndGlyphs">W460 x D620x H712</text>
<!-- row2 right -->
<use href="#arw" x="921" y="739"/>
<text class="m" x="935" y="750" textLength="121" lengthAdjust="spacingAndGlyphs">JH-C-15 宽五抽卡箱柜</text>
<text class="s" x="936" y="765" textLength="136" lengthAdjust="spacingAndGlyphs">Wide Five Drawers Pallet Cabinet</text>
<text class="d" x="935" y="783" textLength="119" lengthAdjust="spacingAndGlyphs">W900 x D450x H1625</text>
<use href="#arw" x="1102" y="739"/>
<text class="m" x="1116" y="750" textLength="122" lengthAdjust="spacingAndGlyphs">JH-C-16 宽四抽卡箱柜</text>
<text class="s" x="1116" y="765" textLength="138" lengthAdjust="spacingAndGlyphs">Wide Four Drawers Pallet Cabinet</text>
<text class="d" x="1116" y="783" textLength="119" lengthAdjust="spacingAndGlyphs">W900 x D450x H1320</text>
<use href="#arw" x="1281" y="739"/>
<text class="m" x="1295" y="750" textLength="122" lengthAdjust="spacingAndGlyphs">JH-C-17 宽三抽卡箱柜</text>
<text class="s" x="1295" y="765" textLength="143" lengthAdjust="spacingAndGlyphs">Wide Three Drawers Pallet Cabinet</text>
<text class="d" x="1295" y="783" textLength="119" lengthAdjust="spacingAndGlyphs">W900 x D450x H1016</text>
<use href="#arw" x="1447" y="739"/>
<text class="m" x="1461" y="750" textLength="122" lengthAdjust="spacingAndGlyphs">JH-C-18 宽二抽卡箱柜</text>
<text class="s" x="1461" y="765" textLength="136" lengthAdjust="spacingAndGlyphs">Wide Two Drawers Pallet Cabinet</text>
<text class="d" x="1461" y="783" textLength="113" lengthAdjust="spacingAndGlyphs">W900 x D450x H712</text>
<!-- row3 right -->
<use href="#arw" x="983" y="1044"/>
<text class="m" x="997" y="1055" textLength="99" lengthAdjust="spacingAndGlyphs">JH-C-19 四斗卡箱</text>
<text class="s" x="997" y="1070" textLength="115" lengthAdjust="spacingAndGlyphs">Four Drawers Pallet Cabinet</text>
<text class="d" x="997" y="1088" textLength="119" lengthAdjust="spacingAndGlyphs">W460 x D620x H1320</text>

<!-- page number -->
<text x="1587" y="1098" font-size="10" fill="#222" textLength="33" lengthAdjust="spacingAndGlyphs">29 / 30</text>
<text x="1530" y="1110" font-size="11" fill="#222" textLength="90" lengthAdjust="spacingAndGlyphs">www.gz-jinhan.cn</text>
</svg>
</body></html>
